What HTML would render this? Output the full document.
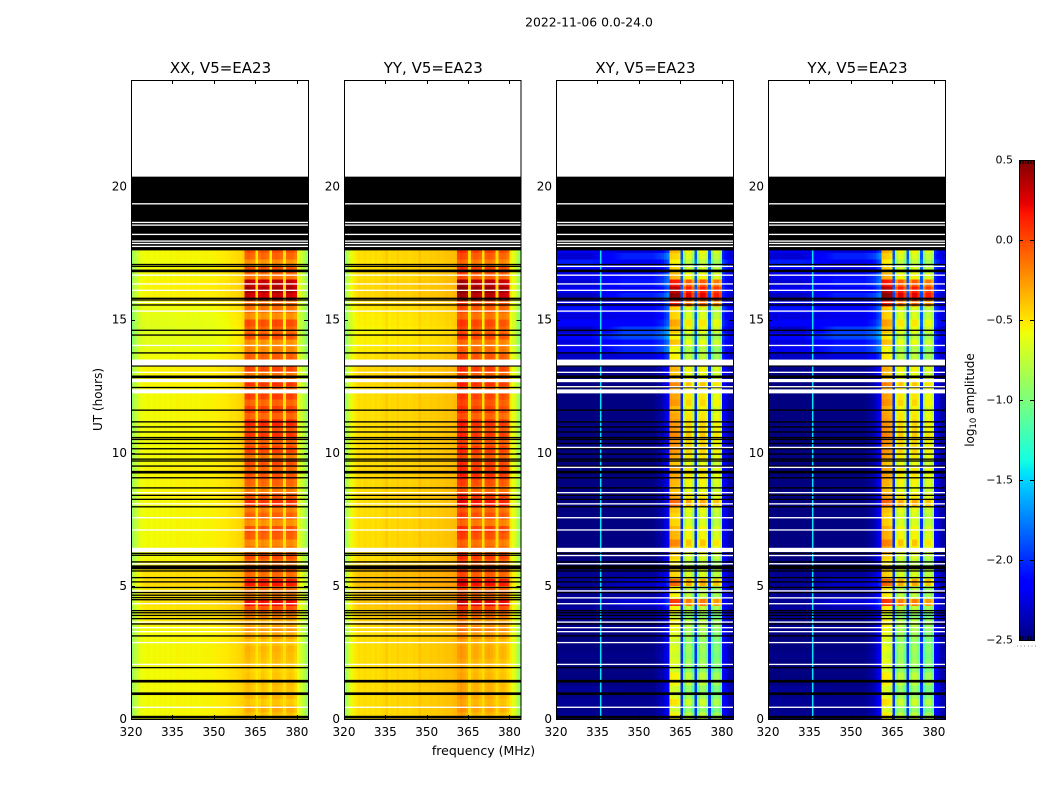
<!DOCTYPE html>
<html lang="en">
<head>
<meta charset="utf-8">
<title>2022-11-06 0.0-24.0</title>
<style>
html,body{margin:0;padding:0;background:#fff;width:1050px;height:800px;overflow:hidden}
svg{display:block}
text{font-family:"DejaVu Sans","Liberation Sans",sans-serif;fill:#000}
</style>
</head>
<body>
<svg id="figure" width="1050" height="800" viewBox="0 0 1050 800" xmlns="http://www.w3.org/2000/svg">
  <text x="589" y="26.5" text-anchor="middle" font-size="12.4">2022-11-06 0.0-24.0</text>
  <text x="483.5" y="755" text-anchor="middle" font-size="12.5">frequency (MHz)</text>
  <text transform="translate(102,399.5) rotate(-90)" text-anchor="middle" font-size="12">UT (hours)</text>
  <text transform="translate(974,400) rotate(-90)" text-anchor="middle" font-size="12">log<tspan font-size="8.5" dy="2">10</tspan><tspan dy="-2"> amplitude</tspan></text>
  <g id="panels"></g>
  <g id="colorbar"></g>
</svg>
<script>
// ---- axis tick labels ----
const xTicks = [320, 335, 350, 365, 380];
const yTicks = [0, 5, 10, 15, 20];
const colorbarTicks = [0.5, 0, -0.5, -1, -1.5, -2, -2.5];

// ---- channels inside the four receiver blocks (index = MHz above 320) ----
const blockChannels = [41,42,43,44,46,47,48,49,51,52,53,54,56,57,58,59];

// ---- mean log10 amplitude by 1 MHz channel ----
const spectrumXX = [
 -0.90,-0.78,-0.68,-0.62,-0.58,-0.57,-0.56,-0.58,-0.56,-0.57,
 -0.56,-0.57,-0.56,-0.57,-0.55,-0.57,-0.55,-0.55,-0.56,-0.55,
 -0.56,-0.55,-0.56,-0.55,-0.56,-0.55,-0.55,-0.54,-0.55,-0.54,
 -0.54,-0.53,-0.52,-0.52,-0.51,-0.50,-0.48,-0.48,-0.46,-0.45,
 -0.42,-0.12,-0.10,-0.14,-0.16,-0.50,-0.18,-0.12,-0.14,-0.18,
 -0.52,-0.12,-0.10,-0.12,-0.16,-0.48,-0.14,-0.12,-0.14,-0.20,
 -0.60,-0.68,-0.78,-0.90];
const spectrumYY = [
 -0.86,-0.74,-0.62,-0.54,-0.50,-0.47,-0.49,-0.46,-0.48,-0.47,
 -0.49,-0.46,-0.48,-0.47,-0.45,-0.41,-0.47,-0.45,-0.46,-0.43,
 -0.46,-0.45,-0.44,-0.46,-0.45,-0.43,-0.44,-0.38,-0.43,-0.42,
 -0.43,-0.41,-0.42,-0.41,-0.40,-0.41,-0.39,-0.38,-0.39,-0.37,
 -0.35, 0.02, 0.05, 0.02,-0.02,-0.46,-0.06,-0.02,-0.04,-0.08,
 -0.47,-0.04,-0.02,-0.04,-0.08,-0.46,-0.08,-0.06,-0.08,-0.14,
 -0.52,-0.62,-0.74,-0.88];
const spectrumXY = [
 -2.50,-2.50,-2.50,-2.50,-2.50,-2.50,-2.50,-2.50,-2.50,-2.50,
 -2.50,-2.50,-2.50,-2.50,-2.50,-2.50,-2.50,-2.50,-2.50,-2.50,
 -2.50,-2.50,-2.50,-2.50,-2.50,-2.50,-2.50,-2.50,-2.50,-2.50,
 -2.50,-2.50,-2.50,-2.50,-2.50,-2.48,-2.45,-2.42,-2.38,-2.30,
 -2.20,-0.62,-0.65,-0.65,-0.68,-2.00,-1.10,-0.85,-0.85,-1.10,
 -2.00,-1.05,-0.85,-0.85,-1.00,-2.00,-1.20,-0.95,-0.95,-1.10,
 -2.15,-2.25,-2.35,-2.40];
const spectrumYX = [
 -2.50,-2.50,-2.50,-2.50,-2.50,-2.50,-2.50,-2.50,-2.50,-2.50,
 -2.50,-2.50,-2.50,-2.50,-2.50,-2.50,-2.50,-2.50,-2.50,-2.50,
 -2.50,-2.50,-2.50,-2.50,-2.50,-2.50,-2.50,-2.50,-2.50,-2.50,
 -2.50,-2.50,-2.50,-2.50,-2.50,-2.48,-2.45,-2.42,-2.38,-2.30,
 -2.20,-0.60,-0.62,-0.64,-0.68,-2.00,-1.05,-0.85,-0.85,-1.05,
 -2.00,-1.05,-0.85,-0.85,-1.00,-2.00,-1.15,-0.95,-0.95,-1.10,
 -2.15,-2.25,-2.35,-2.40];

// ---- per 0.25 h row offsets inside the receiver blocks ----
const blockGainXX = [
 -0.26,-0.20,-0.28,-0.22,-0.26,-0.24,-0.28,-0.30,-0.26,-0.24,
 -0.22,-0.26,-0.18,-0.14,-0.18,-0.05, 0.10, 0.32,-0.04, 0.02,
  0.28, 0.02, 0.10, 0.00, 0.12,-0.02,-0.08, 0.06, 0.10,-0.10,
  0.05,-0.04, 0.20, 0.08,-0.04, 0.04, 0.10, 0.04, 0.12,-0.02,
  0.14, 0.06, 0.20, 0.10, 0.24, 0.04, 0.16, 0.04, 0.16, 0.06,
  0.20,-0.02, 0.14, 0.02, 0.06,-0.06,-0.10, 0.10, 0.04, 0.12,
 -0.10, 0.00, 0.02, 0.42, 0.52, 0.46, 0.00, 0.10,-0.10, 0.04, 0.10];
const blockGainYY = [
 -0.32,-0.26,-0.32,-0.28,-0.30,-0.30,-0.32,-0.34,-0.32,-0.28,
 -0.28,-0.30,-0.22,-0.16,-0.20,-0.08, 0.05, 0.28,-0.06,-0.02,
  0.22,-0.02, 0.06,-0.02, 0.08,-0.04,-0.10, 0.02, 0.08,-0.12,
  0.02,-0.06, 0.20, 0.08,-0.06, 0.02, 0.12, 0.08, 0.08,-0.02,
  0.08, 0.00, 0.10, 0.02, 0.12,-0.04, 0.06, 0.00, 0.06, 0.00,
  0.12,-0.04, 0.08,-0.02, 0.00,-0.08,-0.12, 0.04,-0.02, 0.04,
 -0.10,-0.02, 0.04, 0.38, 0.48, 0.38,-0.02, 0.06,-0.12,-0.02, 0.06];
const blockGainCross = [
  0.10,-0.05, 0.15, 0.00,-0.05, 0.10, 0.10,-0.05, 0.00,-0.05,
  0.00,-0.05, 0.00, 0.05, 0.10,-0.05, 0.10, 0.70, 0.10, 0.10,
  0.55, 0.20, 0.20, 0.10, 0.20, 0.35, 0.45, 0.30, 0.30, 0.20,
  0.20, 0.25, 0.55, 0.35, 0.25, 0.30, 0.35, 0.35, 0.25, 0.35,
  0.40, 0.40, 0.45, 0.40, 0.40, 0.35, 0.30, 0.40, 0.35, 0.35,
  0.45, 0.25, 0.30, 0.25, 0.10, 0.05, 0.25, 0.10, 0.25, 0.35,
  0.20, 0.20, 0.75, 1.10, 1.00, 0.80, 0.30, 0.20, 0.10, 0.20, 0.30];

// ---- per 0.25 h row offsets outside the receiver blocks ----
const offBandGainParallel = [
  0.00, 0.00, 0.00, 0.00, 0.00, 0.00, 0.00, 0.00, 0.00, 0.00,
  0.00, 0.00, 0.00, 0.00, 0.04, 0.05, 0.06, 0.08, 0.06, 0.06,
  0.10, 0.08, 0.10, 0.02, 0.00, 0.00, 0.00, 0.00, 0.00, 0.00,
  0.00, 0.00, 0.00, 0.02, 0.01, 0.01, 0.02, 0.02, 0.00, 0.00,
  0.00, 0.00, 0.00, 0.00, 0.00, 0.00, 0.00, 0.00, 0.00, 0.00,
  0.02, 0.02, 0.02, 0.00,-0.01,-0.04,-0.06,-0.06,-0.08,-0.06,
 -0.05,-0.03, 0.00, 0.02, 0.02, 0.02, 0.00, 0.00,-0.02, 0.00, 0.00];
const offBandLowCross = [
  0.06, 0.03, 0.06, 0.03, 0.06, 0.00, 0.00, 0.00, 0.00, 0.03,
  0.00, 0.00, 0.00, 0.03, 0.03, 0.05, 0.08, 0.05, 0.05, 0.03,
  0.06, 0.05, 0.03, 0.00, 0.00, 0.00, 0.00, 0.00, 0.00, 0.00,
  0.00, 0.00, 0.00, 0.00, 0.00, 0.00, 0.00, 0.00, 0.00, 0.00,
  0.00, 0.00, 0.00, 0.00, 0.00, 0.00, 0.00, 0.00, 0.00, 0.00,
  0.00, 0.00, 0.03, 0.03, 0.18, 0.30, 0.25, 0.38, 0.18, 0.34,
  0.24, 0.42, 0.26, 0.16, 0.30, 0.22, 0.28, 0.34, 0.45, 0.22, 0.30];
const offBandMidCross = [
  0.05, 0.03, 0.05, 0.03, 0.03, 0.01, 0.01, 0.01, 0.01, 0.03,
  0.01, 0.01, 0.01, 0.03, 0.03, 0.06, 0.12, 0.22, 0.08, 0.06,
  0.18, 0.08, 0.05, 0.01, 0.01, 0.01, 0.01, 0.01, 0.01, 0.01,
  0.01, 0.01, 0.01, 0.01, 0.01, 0.01, 0.01, 0.01, 0.01, 0.01,
  0.01, 0.01, 0.01, 0.01, 0.01, 0.01, 0.01, 0.01, 0.01, 0.01,
  0.01, 0.03, 0.05, 0.05, 0.24, 0.48, 0.40, 0.58, 0.55, 0.36,
  0.28, 0.36, 0.30, 0.46, 0.30, 0.42, 0.40, 0.24, 0.30, 0.46, 0.24];

// ---- isolated RFI channel on cross hands ----
const rfiChannelMHz = [336];
const rfiChannelValue = [-1.45];

// ---- flagged time ranges, in hours ----
const noDataBlackBands = [[17.6,20.37]];
const noDataWhiteLines = [19.35,18.65,18.55,18.2,17.95,17.86,17.75];
const sharedWhiteBands = [[13.28,13.5],[12.65,12.77],[12.23,12.38],[6.27,6.43]];
const sharedBlackBands = [[16.78,16.88],[12.8,12.9],[9.22,9.32],[5.62,5.77],[1.37,1.47],[0.9,1.0],[0.02,0.12]];
const parallelBlackLines = [17.07,17.0,15.8,15.74,15.55,14.6,14.42,13.75,13.26,12.45,11.6,11.16,10.97,10.78,10.57,10.5,10.35,10.15,9.95,9.76,9.69,9.5,9.06,8.68,8.4,8.25,7.97,6.22,6.15,5.9,5.56,5.31,5.15,4.94,4.75,4.65,4.56,4.48,4.07,3.99,3.89,3.77,3.57,3.12,1.93];
const parallelWhiteLines = [16.67,16.34,16.1,15.65,15.32,14.03,13.02,8.5,8.08,7.56,7.1,5.83,4.81,4.33,3.64,3.43,3.28,2.87,2.05,0.44];
const crossBlackLines = [17.07,15.8,15.74,15.55,14.6,14.42,13.75,13.26,12.45,11.6,11.16,10.97,10.78,10.57,10.5,10.35,10.15,9.95,9.76,9.69,9.5,9.06,8.68,8.4,8.25,7.97,6.22,5.9,5.56,5.31,5.15,4.94,4.75,4.07,3.99,3.89,3.77,3.57,3.12,1.93];
const crossWhiteLines = [17.0,16.67,16.34,16.1,15.65,15.32,14.03,13.02,12.48,10.2,9.45,8.5,8.08,7.56,7.1,6.14,5.83,4.81,4.55,4.33,3.64,3.43,3.28,2.87,2.05,0.44];

// ---- panels ----
const panelNames = ['xx','yy','xy','yx'];
const panelTitles = ['XX, V5=EA23','YY, V5=EA23','XY, V5=EA23','YX, V5=EA23'];
const panelSpectra = [spectrumXX, spectrumYY, spectrumXY, spectrumYX];
const panelBlockGains = [blockGainXX, blockGainYY, blockGainCross, blockGainCross];
const panelLefts = [131, 344, 556, 768];
const panelWidths = [177, 176.5, 177, 177];

const NS = 'http://www.w3.org/2000/svg';
const plotTop = 80, plotBottom = 719;
const freqMin = 320, freqMax = 384, hourMin = 0, hourMax = 24, rowStep = 0.25;
const vMin = -2.5, vMax = 0.5;

function yScale(h){ return plotBottom - (h - hourMin) / (hourMax - hourMin) * (plotBottom - plotTop); }
function makeXScale(left, width){ return function(f){ return left + (f - freqMin) / (freqMax - freqMin) * width; }; }

function interp(t, stops){
  for (let i = 1; i < stops.length; i++) {
    if (t <= stops[i][0]) {
      const a = stops[i-1], b = stops[i];
      return a[1] + (b[1]-a[1]) * (t-a[0]) / (b[0]-a[0]);
    }
  }
  return stops[stops.length-1][1];
}
const jetR = [[0,0],[0.35,0],[0.66,1],[0.89,1],[1,0.5]];
const jetG = [[0,0],[0.125,0],[0.375,1],[0.64,1],[0.91,0],[1,0]];
const jetB = [[0,0.5],[0.11,1],[0.34,1],[0.65,0],[1,0]];
function jet(v){
  const t = Math.max(0, Math.min(1, (v - vMin) / (vMax - vMin)));
  return 'rgb(' + Math.round(255*interp(t,jetR)) + ',' + Math.round(255*interp(t,jetG)) + ',' + Math.round(255*interp(t,jetB)) + ')';
}
function addRect(parent, x, y, w, h, fill, soft){
  const r = document.createElementNS(NS, 'rect');
  r.setAttribute('x', x.toFixed(2));
  r.setAttribute('y', y.toFixed(2));
  r.setAttribute('width', w.toFixed(2));
  r.setAttribute('height', h.toFixed(2));
  r.setAttribute('fill', fill);
  if (!soft) r.setAttribute('shape-rendering', 'crispEdges');
  parent.appendChild(r);
  return r;
}
function addLine(parent, x1, y1, x2, y2){
  const l = document.createElementNS(NS, 'line');
  l.setAttribute('x1', x1);
  l.setAttribute('y1', y1);
  l.setAttribute('x2', x2);
  l.setAttribute('y2', y2);
  l.setAttribute('stroke', '#000');
  l.setAttribute('stroke-width', '1');
  parent.appendChild(l);
  return l;
}
function addText(parent, x, y, str, size, anchor){
  const t = document.createElementNS(NS, 'text');
  t.setAttribute('x', x);
  t.setAttribute('y', y);
  t.setAttribute('font-size', size);
  t.setAttribute('text-anchor', anchor);
  t.textContent = str;
  parent.appendChild(t);
  return t;
}
function cellValue(p, c, r){
  const spectrum = panelSpectra[p];
  if (blockChannels.indexOf(c) >= 0) return spectrum[c] + panelBlockGains[p][r];
  if (p < 2) return spectrum[c] + offBandGainParallel[r];
  if (c >= 41) return spectrum[c] + offBandLowCross[r] * 0.5;
  const w = Math.max(0, Math.min(1, (c - 12) / 12));
  return spectrum[c] + offBandLowCross[r] * (1 - w) + offBandMidCross[r] * w;
}

const panelsRoot = document.getElementById('panels');
panelNames.forEach(function(name, p){
  const left = panelLefts[p], width = panelWidths[p], xScale = makeXScale(left, width);
  const g = document.createElementNS(NS, 'g');
  
  
  panelsRoot.appendChild(g);

  // heatmap
  const heat = document.createElementNS(NS, 'g');
  
  
  g.appendChild(heat);
  const rowCount = panelBlockGains[p].length;
  for (let r = 0; r < rowCount; r++) {
    const yTop = yScale((r + 1) * rowStep), yBot = yScale(r * rowStep);
    for (let c = 0; c < panelSpectra[p].length; c++) {
      const x0 = xScale(freqMin + c), x1 = xScale(freqMin + c + 1);
      const cell = addRect(heat, x0, yTop, x1 - x0, yBot - yTop, jet(cellValue(p, c, r)));
      
      
    }
  }

  // RFI line on cross hands
  if (p >= 2) {
    rfiChannelMHz.forEach(function(f, i){
      const rfi = addRect(g, xScale(f) - 0.3, yScale(17.6), 1.5, yScale(0) - yScale(17.6), jet(rfiChannelValue[i]), true);
      
      
    });
  }

  // flagged bands and lines
  const flags = document.createElementNS(NS, 'g');
  
  
  g.appendChild(flags);
  const blackLines = p < 2 ? parallelBlackLines : crossBlackLines;
  const whiteLines = p < 2 ? parallelWhiteLines : crossWhiteLines;
  function band(h0, h1, fill){
    addRect(flags, left, yScale(h1), width, yScale(h0) - yScale(h1), fill, true);
  }
  noDataBlackBands.forEach(function(b){ band(b[0], b[1], '#000'); });
  sharedBlackBands.forEach(function(b){ band(b[0], b[1], '#000'); });
  blackLines.forEach(function(h){ band(h - 0.025, h + 0.025, '#000'); });
  whiteLines.forEach(function(h){ band(h - 0.025, h + 0.025, '#fff'); });
  noDataWhiteLines.forEach(function(h){ band(h - 0.025, h + 0.025, '#fff'); });
  sharedWhiteBands.forEach(function(b){ band(b[0], b[1], '#fff'); });

  // frame
  const frame = document.createElementNS(NS, 'rect');
  frame.setAttribute('x', left + 0.5);
  frame.setAttribute('y', plotTop + 0.5);
  frame.setAttribute('width', width);
  frame.setAttribute('height', plotBottom - plotTop);
  frame.setAttribute('fill', 'none');
  frame.setAttribute('stroke', '#000');
  frame.setAttribute('stroke-width', '1');
  
  
  g.appendChild(frame);

  // ticks
  xTicks.forEach(function(f){
    const x = Math.round(xScale(f)) + 0.5;
    const tb = addLine(g, x, plotBottom, x, plotBottom - 4);
    
    
    const tt = addLine(g, x, plotTop, x, plotTop + 4);
    
    
    const lab = addText(g, xScale(f), plotBottom + 17, String(f), 12, 'middle');
    
    
  });
  yTicks.forEach(function(h){
    const y = Math.round(yScale(h)) + 0.5;
    const tl = addLine(g, left, y, left + 4, y);
    
    
    const tr = addLine(g, left + width - 4, y, left + width, y);
    
    
    const lab = addText(g, left - 4, yScale(h) + 4, String(h), 12, 'end');
    
    
  });

  // title
  const title = addText(g, left + width / 2 + 1, 73, panelTitles[p], 15, 'middle');
  
  
});

// ---- colorbar ----
const cb = document.getElementById('colorbar');
const cbLeft = 1019, cbRight = 1034, cbTop = 160, cbBottom = 640;
function cbScale(v){ return cbBottom - (v - vMin) / (vMax - vMin) * (cbBottom - cbTop); }
const cbSteps = 256;
for (let i = 0; i < cbSteps; i++) {
  const v0 = vMin + (vMax - vMin) * i / cbSteps, v1 = vMin + (vMax - vMin) * (i + 1) / cbSteps;
  const seg = addRect(cb, cbLeft, cbScale(v1), cbRight - cbLeft, cbScale(v0) - cbScale(v1) + 0.3, jet((v0 + v1) / 2));
  
  
}
const cbFrame = document.createElementNS(NS, 'rect');
cbFrame.setAttribute('x', cbLeft + 0.5);
cbFrame.setAttribute('y', cbTop + 0.5);
cbFrame.setAttribute('width', cbRight - cbLeft);
cbFrame.setAttribute('height', cbBottom - cbTop);
cbFrame.setAttribute('fill', 'none');
cbFrame.setAttribute('stroke', '#000');


cb.appendChild(cbFrame);
colorbarTicks.forEach(function(v){
  const y = Math.round(cbScale(v)) + 0.5;
  const a = addLine(cb, cbLeft, y, cbLeft + 4, y);
  
  
  const b = addLine(cb, cbRight - 4, y, cbRight, y);
  
  
  const str = (v < 0 ? '\u2212' : '') + Math.abs(v).toFixed(1);
  const lab = addText(cb, cbLeft - 6, cbScale(v) + 3.5, str, 11, 'end');
  
  
});
for (let i = 0; i < 6; i++) {
  const x = cbLeft + 1.5 + i * 2.6;
  const up = addLine(cb, x, cbTop, x, cbTop + 4);
  
  
  const dn = addLine(cb, x, cbBottom - 4, x, cbBottom);
  
  
  const dot = addRect(cb, cbLeft - 2 + i * 3.6, 645.5, 1, 1, '#888');
  
  
}
</script>
</body>
</html>
